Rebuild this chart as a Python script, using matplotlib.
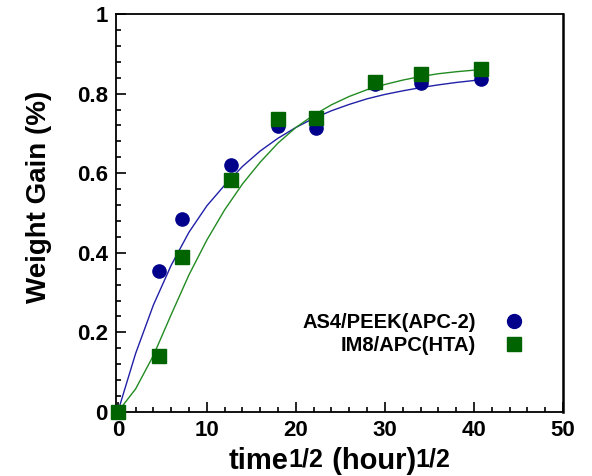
import numpy as np
from matplotlib import pyplot as plt
from matplotlib.lines import Line2D
from matplotlib.offsetbox import TextArea, HPacker, AnchoredOffsetbox

plt.rcParams['font.family'] = ['Liberation Sans', 'DejaVu Sans']
plt.rcParams['font.weight'] = 'bold'

# measured weight gain vs sqrt(time)
sqrt_time = [0, 4.6, 7.2, 12.7, 18.0, 22.3, 28.9, 34.1, 40.8]
gain_apc2 = [0, 0.355, 0.485, 0.621, 0.719, 0.714, 0.823, 0.826, 0.837]
gain_hta = [0, 0.141, 0.390, 0.583, 0.736, 0.738, 0.830, 0.849, 0.862]

# fitted curves
fit_x = [0, 2, 4, 6, 8, 10, 12, 14, 16, 18, 20, 22, 24, 26, 28, 30, 32, 34, 36, 38, 40, 41]
fit_apc2 = [0, 0.147, 0.269, 0.369, 0.452, 0.518, 0.570, 0.617, 0.656, 0.688, 0.715, 0.738,
            0.757, 0.773, 0.787, 0.798, 0.807, 0.815, 0.822, 0.828, 0.833, 0.835]
fit_hta = [0, 0.058, 0.142, 0.245, 0.345, 0.432, 0.508, 0.573, 0.628, 0.676, 0.715, 0.746,
           0.772, 0.793, 0.810, 0.823, 0.834, 0.843, 0.850, 0.855, 0.859, 0.861]

labels = ['AS4/PEEK(APC-2)', 'IM8/APC(HTA)']

fig = plt.figure(figsize=(5.92, 4.76), dpi=100)
ax = fig.add_axes([0.196, 0.1345, 0.755, 0.836])

ax.plot(fit_x, fit_apc2, color='#2020a8', lw=1.0, zorder=2)
ax.plot(fit_x, fit_hta, color='#228b22', lw=1.0, zorder=2)
ax.plot(sqrt_time, gain_apc2, 'o', color='#00008b', ms=9.5, mec='#00008b', ls='none',
        zorder=3, clip_on=False)
ax.plot(sqrt_time, gain_hta, 's', color='#006400', ms=9.5, mec='#006400', ls='none',
        zorder=4, clip_on=False)

ax.set_xlim(-0.2, 50)
ax.set_ylim(0, 1)
ax.set_xticks([0, 10, 20, 30, 40, 50])
ax.set_xticks(np.arange(0, 50, 2), minor=True)
ax.set_yticks([0, 0.2, 0.4, 0.6, 0.8, 1])
ax.set_yticklabels(['0', '0.2', '0.4', '0.6', '0.8', '1'])
ax.set_yticks(np.arange(0, 1.0, 0.04), minor=True)
ax.tick_params(which='both', direction='in', top=False, right=False, width=1.2)
ax.tick_params(which='major', length=7, labelsize=16, pad=6)
ax.tick_params(which='minor', length=3.5)
for s in ax.spines.values():
    s.set_linewidth(1.3)
ax.spines['right'].set_linewidth(1.8)

ax.set_ylabel('Weight Gain (%)', fontsize=20, fontweight='bold')
ax.yaxis.set_label_coords(-0.143, 0.541)

# x label with big superscripts, top-aligned like the original
big = dict(fontsize=21, fontweight='bold')
sup = dict(fontsize=18, fontweight='bold')
xlab = HPacker(children=[TextArea('time', textprops=big), TextArea('1/2', textprops=sup),
                         TextArea(' (hour)', textprops=big), TextArea('1/2', textprops=sup)],
               align='top', pad=0, sep=0)
fig.add_artist(AnchoredOffsetbox(loc='lower center', child=xlab, frameon=False, pad=0,
                                 borderpad=0, bbox_to_anchor=(0.574, 0.002),
                                 bbox_transform=fig.transFigure))

handles = [Line2D([], [], marker='o', color='#00008b', ls='none', ms=10),
           Line2D([], [], marker='s', color='#006400', ls='none', ms=9.5)]
ax.legend(handles, labels, loc='center right', bbox_to_anchor=(0.913, 0.197),
          bbox_transform=ax.transAxes, frameon=False, markerfirst=False,
          fontsize=14.5, handlelength=1.0, handletextpad=1.4, labelspacing=0.2,
          borderpad=0, borderaxespad=0)

fig.savefig('out.png', dpi=100)
